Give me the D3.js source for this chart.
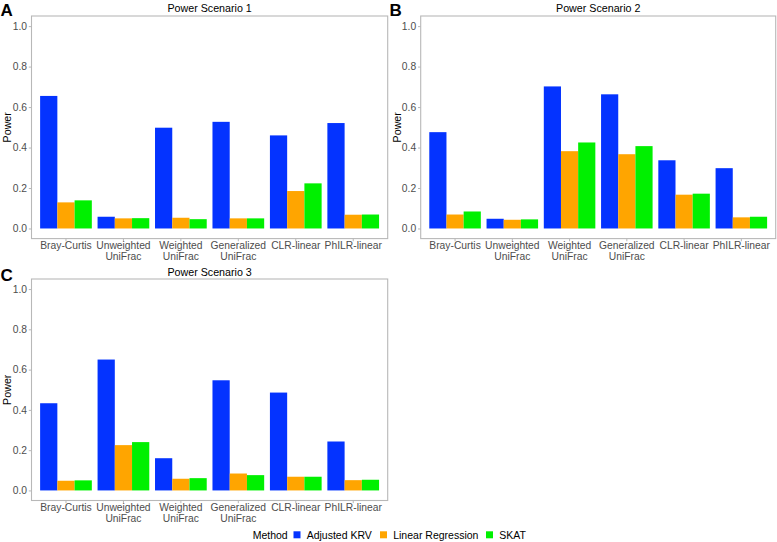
<!DOCTYPE html>
<html>
<head>
<meta charset="utf-8">
<script src="https://cdn.jsdelivr.net/npm/d3@7"></script>
<style>
  html, body { margin: 0; padding: 0; background: #fff; }
  svg { display: block; font-family: "Liberation Sans", Arial, sans-serif; }
</style>
</head>
<body>
<svg id="chart" width="777" height="542"></svg>
<script>
// ---------- data ----------
const categories = ["Bray-Curtis", "Unweighted UniFrac", "Weighted UniFrac", "Generalized UniFrac", "CLR-linear", "PhILR-linear"];
const categoryLines = [["Bray-Curtis"], ["Unweighted", "UniFrac"], ["Weighted", "UniFrac"], ["Generalized", "UniFrac"], ["CLR-linear"], ["PhILR-linear"]];
const methods = ["Adjusted KRV", "Linear Regression", "SKAT"];
const yTicks = [0, 0.2, 0.4, 0.6, 0.8, 1.0];

const scenario1KRV  = [0.655, 0.058, 0.498, 0.527, 0.460, 0.521];
const scenario1LR   = [0.129, 0.050, 0.053, 0.050, 0.185, 0.068];
const scenario1SKAT = [0.139, 0.051, 0.046, 0.050, 0.223, 0.069];

const scenario2KRV  = [0.476, 0.048, 0.702, 0.663, 0.337, 0.298];
const scenario2LR   = [0.069, 0.043, 0.382, 0.367, 0.167, 0.055];
const scenario2SKAT = [0.084, 0.045, 0.425, 0.407, 0.172, 0.058];

const scenario3KRV  = [0.433, 0.650, 0.160, 0.547, 0.486, 0.243];
const scenario3LR   = [0.048, 0.225, 0.058, 0.084, 0.068, 0.051];
const scenario3SKAT = [0.050, 0.240, 0.061, 0.076, 0.068, 0.053];

const panelTitles = ["Power Scenario 1", "Power Scenario 2", "Power Scenario 3"];
const panelLetters = ["A", "B", "C"];

// ---------- styles ----------
const colors = { "Adjusted KRV": "#0433FF", "Linear Regression": "#FFA500", "SKAT": "#00F000" };
const borderColor = "#b8b8b8";
const tickTextColor = "#4d4d4d";

const svg = d3.select("#chart");

const panels = [
  { series: [scenario1KRV, scenario1LR, scenario1SKAT], x0: 31.5, x1: 387.7, y0: 16, y1: 238.6, ylabX: 10.8, letterX: 0.5, letterY: 15.5, titleY: 12 },
  { series: [scenario2KRV, scenario2LR, scenario2SKAT], x0: 420.7, x1: 775.7, y0: 16, y1: 238.6, ylabX: 400.5, letterX: 389.5, letterY: 15.5, titleY: 12 },
  { series: [scenario3KRV, scenario3LR, scenario3SKAT], x0: 31.5, x1: 387.7, y0: 279, y1: 500.5, ylabX: 10.8, letterX: 0.5, letterY: 280.5, titleY: 276 }
];

panels.forEach((p, pi) => {
  const g = svg.append("g");
  const x = d3.scaleBand().domain(categories).range([p.x0, p.x1]).paddingInner(0.1).paddingOuter(0.15);
  const xm = d3.scaleBand().domain(methods).range([0, x.bandwidth()]).padding(0);
  const y = d3.scaleLinear().domain([-0.05, 1.05]).range([p.y1, p.y0]);

  const rows = [];
  categories.forEach((c, ci) => {
    methods.forEach((m, mi) => rows.push({ c, m, v: p.series[mi][ci] }));
  });

  g.selectAll("rect.bar").data(rows).enter().append("rect")
    .attr("class", "bar")
    .attr("x", d => x(d.c) + xm(d.m))
    .attr("width", xm.bandwidth())
    .attr("y", d => y(d.v))
    .attr("height", d => y(0) - y(d.v))
    .attr("fill", d => colors[d.m]);

  // border
  g.append("rect")
    .attr("x", p.x0).attr("y", p.y0)
    .attr("width", p.x1 - p.x0).attr("height", p.y1 - p.y0)
    .attr("fill", "none").attr("stroke", borderColor).attr("stroke-width", 1.1);

  // y axis
  const ya = g.append("g").attr("transform", `translate(${p.x0},0)`)
    .call(d3.axisLeft(y).tickValues(yTicks).tickFormat(d3.format(".1f")).tickSize(2.7).tickPadding(1.8));
  ya.select(".domain").remove();
  ya.selectAll(".tick line").attr("stroke", borderColor);
  ya.selectAll(".tick text").attr("fill", tickTextColor).style("font-size", "10.3px")
    .style("font-family", "'Liberation Sans', Arial, sans-serif");

  // x axis
  const xa = g.append("g").attr("transform", `translate(0,${p.y1})`)
    .call(d3.axisBottom(x).tickSize(2.7).tickFormat(""));
  xa.select(".domain").remove();
  xa.selectAll(".tick line").attr("stroke", borderColor);
  categories.forEach((c, ci) => {
    const t = g.append("text")
      .attr("x", x(c) + x.bandwidth() / 2)
      .attr("y", p.y1 + 10.8)
      .attr("text-anchor", "middle")
      .attr("fill", tickTextColor)
      .style("font-size", "10.3px");
    categoryLines[ci].forEach((line, li) => {
      t.append("tspan").attr("x", x(c) + x.bandwidth() / 2).attr("dy", li === 0 ? 0 : 10.6).text(line);
    });
  });

  // title
  g.append("text")
    .attr("x", (p.x0 + p.x1) / 2).attr("y", p.titleY)
    .attr("text-anchor", "middle").attr("fill", "#000")
    .style("font-size", "10.7px").text(panelTitles[pi]);

  // y label
  g.append("text")
    .attr("transform", `translate(${p.ylabX},${(p.y0 + p.y1) / 2}) rotate(-90)`)
    .attr("text-anchor", "middle").attr("fill", "#000")
    .style("font-size", "10.7px").text("Power");

  // panel letter
  g.append("text")
    .attr("x", p.letterX).attr("y", p.letterY)
    .attr("fill", "#000").style("font-size", "17px").style("font-weight", "bold")
    .text(panelLetters[pi]);
});

// ---------- legend ----------
const lg = svg.append("g");
lg.append("text").attr("x", 252.7).attr("y", 538.8).attr("fill", "#000")
  .style("font-size", "10.5px").text("Method");
const legendX = [293.5, 380, 486];
methods.forEach((m, i) => {
  lg.append("rect").attr("x", legendX[i]).attr("y", 531.3).attr("width", 7).attr("height", 7).attr("fill", colors[m]);
  lg.append("text").attr("x", legendX[i] + 13.2).attr("y", 538.8).attr("fill", "#000")
    .style("font-size", "10.5px").text(m);
});
</script>
</body>
</html>
